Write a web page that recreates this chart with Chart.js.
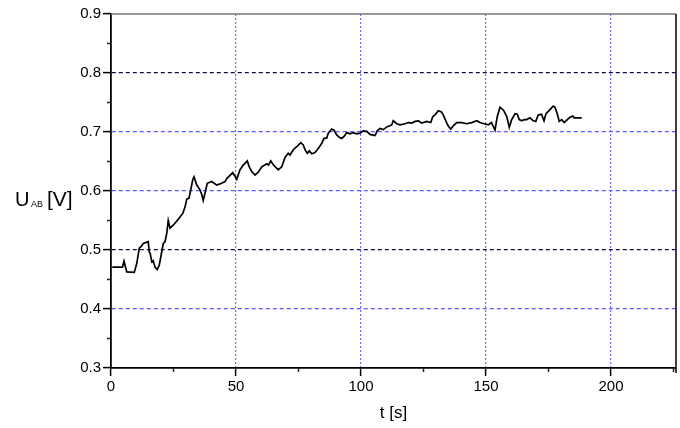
<!DOCTYPE html>
<html>
<head>
<meta charset="utf-8">
<script src="https://cdn.jsdelivr.net/npm/chart.js@4.4.1/dist/chart.umd.min.js"></script>
<style>
  body { margin: 0; background: #fff; }
  #wrap { width: 680px; height: 428px; }
</style>
</head>
<body>
<div id="wrap"><canvas id="uab-chart"></canvas></div>
<script>

// time [s] and voltage U_AB [V]
const tValues = [
    0.5, 4.6, 5.2, 6.3, 9.3, 10.3, 11.3, 12.1, 12.9, 14.9, 15.3, 15.7, 16.3, 16.9, 17.6, 18.5, 19.3, 20.3, 20.9, 21.6,
    22.3, 22.9, 23.6, 24.9, 26.9, 28.7, 29.6, 30.3, 31.2, 31.9, 32.7, 33.2, 34.3, 35.6, 36.3, 36.9, 37.9, 38.5, 40.3, 42.3,
    43.6, 45.6, 46.3, 48.7, 49.6, 50.3, 51.6, 52.9, 54.5, 55.3, 56.3, 57.6, 58.9, 60.3, 62.3, 63.0, 63.9, 65.0, 66.9, 68.3,
    69.6, 70.9, 71.6, 72.9, 74.3, 75.9, 76.9, 77.6, 78.5, 79.3, 80.3, 81.6, 82.9, 84.3, 85.2, 86.3, 86.9, 88.3, 89.2, 90.3,
    91.3, 92.3, 93.3, 94.3, 95.6, 96.9, 98.3, 99.6, 100.9, 102.3, 103.6, 105.6, 106.5, 107.6, 108.9, 110.5, 112.3, 112.9, 114.3, 115.6,
    117.6, 118.9, 120.3, 121.6, 123.0, 124.3, 126.3, 127.9, 128.7, 129.6, 130.9, 132.2, 132.9, 134.0, 134.9, 135.9, 137.0, 138.3, 140.3, 142.3,
    144.3, 146.3, 147.6, 149.2, 150.9, 152.2, 153.6, 154.5, 155.6, 157.0, 158.3, 159.3, 160.2, 161.6, 162.5, 163.3, 164.3, 165.3, 166.3, 167.6,
    168.9, 169.9, 170.9, 172.2, 173.2, 174.0, 175.6, 176.9, 177.6, 178.5, 179.3, 180.3, 181.3, 182.3, 183.6, 184.7, 185.3, 188.3
];
const uValues = [
    0.471, 0.471, 0.481, 0.463, 0.462, 0.477, 0.503, 0.506, 0.511, 0.514, 0.497, 0.494, 0.480, 0.482, 0.471, 0.467, 0.474, 0.497, 0.511, 0.514,
    0.528, 0.550, 0.537, 0.542, 0.552, 0.562, 0.573, 0.586, 0.588, 0.602, 0.619, 0.624, 0.610, 0.602, 0.594, 0.584, 0.602, 0.613, 0.616, 0.610,
    0.612, 0.616, 0.621, 0.631, 0.625, 0.620, 0.636, 0.644, 0.651, 0.641, 0.633, 0.627, 0.632, 0.641, 0.646, 0.644, 0.651, 0.644, 0.636, 0.641,
    0.657, 0.664, 0.661, 0.670, 0.675, 0.682, 0.678, 0.670, 0.664, 0.668, 0.663, 0.665, 0.672, 0.681, 0.689, 0.690, 0.698, 0.705, 0.703, 0.695,
    0.691, 0.689, 0.693, 0.699, 0.697, 0.699, 0.697, 0.698, 0.702, 0.701, 0.696, 0.694, 0.702, 0.706, 0.704, 0.709, 0.712, 0.719, 0.714, 0.712,
    0.714, 0.716, 0.715, 0.718, 0.719, 0.715, 0.718, 0.716, 0.726, 0.729, 0.736, 0.734, 0.729, 0.718, 0.710, 0.705, 0.711, 0.716, 0.716, 0.714,
    0.716, 0.719, 0.716, 0.714, 0.712, 0.716, 0.703, 0.726, 0.742, 0.737, 0.726, 0.708, 0.720, 0.731, 0.730, 0.721, 0.719, 0.721, 0.721, 0.724,
    0.719, 0.718, 0.729, 0.730, 0.719, 0.731, 0.738, 0.744, 0.742, 0.731, 0.718, 0.721, 0.716, 0.720, 0.725, 0.727, 0.724, 0.724
];

// axis ranges and labelled ticks
const xRange = [0, 226];
const yRange = [0.3, 0.9];
const xLabelTicks = [0, 50, 100, 150, 200];
const yLabelTicks = [0.3, 0.4, 0.5, 0.6, 0.7, 0.8, 0.9];
const xMinorTicks = [25, 75, 125, 175, 225];
const yMinorTicks = [0.35, 0.45, 0.55, 0.65, 0.75, 0.85];

const FONT = "'Liberation Sans', Arial, sans-serif";

const isLabelX = v => xLabelTicks.some(t => Math.abs(t - v) < 1e-6);
const isLabelY = v => yLabelTicks.some(t => Math.abs(t - v) < 1e-6);

// frame, minor ticks and axis titles
const framePlugin = {
    id: 'frame',
    afterDraw(chart) {
        const { ctx, chartArea: a, scales: { x, y } } = chart;
        ctx.save();
        // top + right edges
        ctx.lineWidth = 1.5;
        ctx.strokeStyle = '#777';
        ctx.beginPath();
        ctx.moveTo(a.left, a.top);
        ctx.lineTo(a.right, a.top);
        ctx.stroke();
        ctx.strokeStyle = '#000';
        ctx.beginPath();
        ctx.moveTo(a.right, a.top);
        ctx.lineTo(a.right, a.bottom + 5);
        ctx.stroke();

        // minor ticks, pointing out
        ctx.lineWidth = 1.5;
        ctx.strokeStyle = '#222';
        xMinorTicks.forEach(v => {
            const px = x.getPixelForValue(v);
            ctx.beginPath();
            ctx.moveTo(px, a.bottom);
            ctx.lineTo(px, a.bottom + 4);
            ctx.stroke();
        });
        yMinorTicks.forEach(v => {
            const py = y.getPixelForValue(v);
            ctx.beginPath();
            ctx.moveTo(a.left - 4, py);
            ctx.lineTo(a.left, py);
            ctx.stroke();
        });

        // axis titles
        ctx.fillStyle = '#000';
        ctx.textBaseline = 'alphabetic';
        ctx.textAlign = 'center';
        ctx.font = `17px ${FONT}`;
        ctx.fillText('t [s]', (a.left + a.right) / 2, 418);

        ctx.textAlign = 'left';
        const base = 206;
        ctx.font = `20px ${FONT}`;
        ctx.fillText('U', 15, base);
        ctx.font = `9px ${FONT}`;
        ctx.fillText('AB', 31, base + 1);
        ctx.font = `21px ${FONT}`;
        ctx.fillText('[V]', 47, base);
        ctx.restore();
    }
};

const uabConfig = {
    type: 'line',
    data: {
        datasets: [
            {
                label: 'U_AB',
                data: tValues.map((t, i) => ({ x: t, y: uValues[i] })),
                borderColor: '#000',
                borderWidth: 1.7,
                pointRadius: 0,
                tension: 0,
                fill: false,
            }
        ]
    },
    options: {
        responsive: true,
        maintainAspectRatio: false,
        animation: false,
        layout: { padding: { top: 14, right: 4, left: 0, bottom: 0 } },
        plugins: {
            legend: { display: false },
            tooltip: { enabled: false },
        },
        scales: {
            x: {
                type: 'linear',
                min: xRange[0],
                max: xRange[1],
                afterFit(scale) { scale.height = 60; },
                afterBuildTicks(scale) {
                    scale.ticks = xLabelTicks.map(v => ({ value: v }));
                },
                ticks: {
                    color: '#000',
                    font: { family: FONT, size: 15 },
                    padding: 2,
                    maxRotation: 0,
                    callback: v => isLabelX(v) ? String(v) : '',
                },
                grid: {
                    color: ctx => (ctx.tick && ctx.tick.value > 0) ? '#6b6bff' : 'rgba(0,0,0,0)',
                    lineWidth: 1.2,
                    tickLength: 8,
                    tickColor: '#000',
                    tickWidth: 1.5,
                },
                border: { display: true, color: '#000', width: 1.8, dash: [2, 2] },
            },
            y: {
                type: 'linear',
                min: yRange[0],
                max: yRange[1],
                afterFit(scale) { scale.width = 111; },
                afterBuildTicks(scale) {
                    scale.ticks = yLabelTicks.map(v => ({ value: v }));
                },
                ticks: {
                    color: '#000',
                    font: { family: FONT, size: 15 },
                    padding: 2,
                    callback: v => isLabelY(v) ? v.toFixed(1) : '',
                },
                grid: {
                    color: ctx => {
                        const v = ctx.tick ? Math.round(ctx.tick.value * 10) : 0;
                        if (v === 5 || v === 8) return '#0c0c48';
                        if (v === 4 || v === 6 || v === 7) return '#5a5aff';
                        return 'rgba(0,0,0,0)';
                    },
                    lineWidth: 1.2,
                    tickLength: 8,
                    tickColor: '#000',
                    tickWidth: 1.5,
                },
                border: { display: true, color: '#000', width: 1.8, dash: [4, 3] },
            }
        }
    },
    plugins: [framePlugin]
};

const uabChart = new Chart(document.getElementById('uab-chart'), uabConfig);
</script>
</body>
</html>
